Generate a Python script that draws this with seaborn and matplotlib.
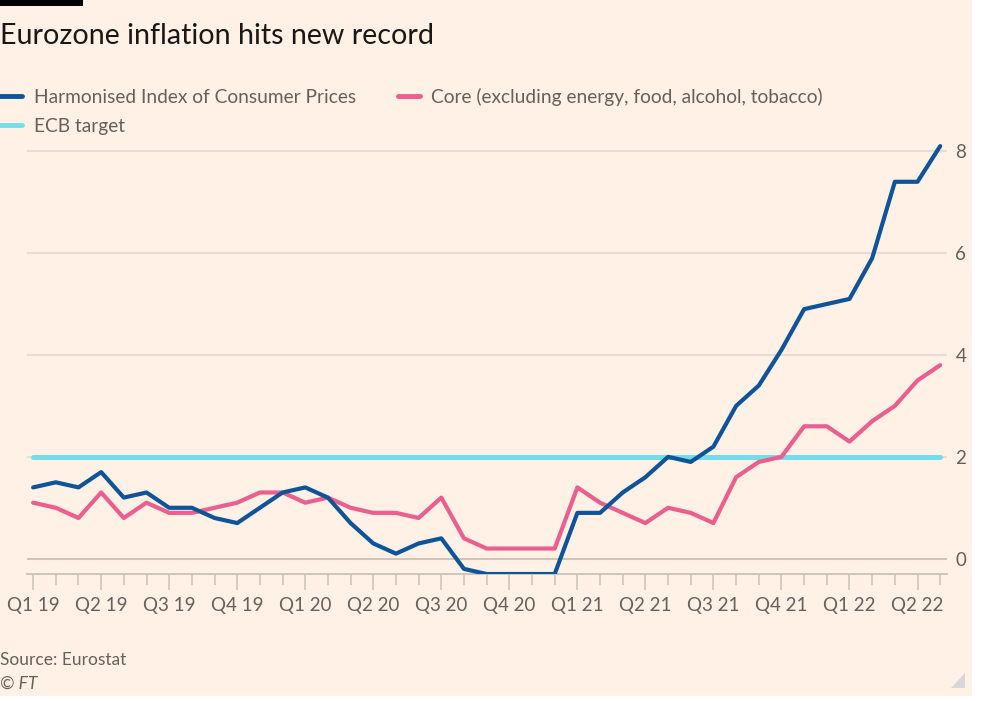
import numpy as np
import pandas as pd
import matplotlib
matplotlib.use('Agg')
import matplotlib.pyplot as plt
import seaborn as sns
from matplotlib.patches import Rectangle, Polygon

# --- data (monthly, Jan 2019 - May 2022, % y/y) ---
hicp = [1.4, 1.5, 1.4, 1.7, 1.2, 1.3, 1.0, 1.0, 0.8, 0.7, 1.0, 1.3,
        1.4, 1.2, 0.7, 0.3, 0.1, 0.3, 0.4, -0.2, -0.3, -0.3, -0.3, -0.3,
        0.9, 0.9, 1.3, 1.6, 2.0, 1.9, 2.2, 3.0, 3.4, 4.1, 4.9, 5.0,
        5.1, 5.9, 7.4, 7.4, 8.1]
core = [1.1, 1.0, 0.8, 1.3, 0.8, 1.1, 0.9, 0.9, 1.0, 1.1, 1.3, 1.3,
        1.1, 1.2, 1.0, 0.9, 0.9, 0.8, 1.2, 0.4, 0.2, 0.2, 0.2, 0.2,
        1.4, 1.1, 0.9, 0.7, 1.0, 0.9, 0.7, 1.6, 1.9, 2.0, 2.6, 2.6,
        2.3, 2.7, 3.0, 3.5, 3.8]
ecb_target = [2.0] * len(hicp)
months = list(range(len(hicp)))
quarter_labels = ['Q1 19', 'Q2 19', 'Q3 19', 'Q4 19', 'Q1 20', 'Q2 20', 'Q3 20',
                  'Q4 20', 'Q1 21', 'Q2 21', 'Q3 21', 'Q4 21', 'Q1 22', 'Q2 22']
y_ticks = [0, 2, 4, 6, 8]

names = ['Harmonised Index of Consumer Prices', 'ECB target',
         'Core (excluding energy, food, alcohol, tobacco)']
colors = {names[0]: '#0F5499', names[1]: '#73DDEA', names[2]: '#EB5E8D'}

df = pd.concat([
    pd.DataFrame({'month': months, 'value': hicp, 'series': names[0]}),
    pd.DataFrame({'month': months, 'value': ecb_target, 'series': names[1]}),
    pd.DataFrame({'month': months, 'value': core, 'series': names[2]}),
])

# --- style ---
sns.set_theme(style='white')
plt.rcParams['font.family'] = ['Lato', 'DejaVu Sans']
BG = '#FFF1E5'
GREY = '#66605C'

W, H = 981, 701
fig = plt.figure(figsize=(W / 100, H / 100), dpi=100, facecolor='white')
fig.patches.append(Rectangle((0, 5 / H), 972 / W, 696 / H, transform=fig.transFigure,
                             facecolor=BG, edgecolor='none', zorder=-10))
fig.patches.append(Rectangle((0, 1 - 6 / H), 83 / W, 6 / H, transform=fig.transFigure,
                             facecolor='black', edgecolor='none', zorder=1))
fig.patches.append(Polygon([(951 / W, 1 - 688 / H), (965 / W, 1 - 688 / H), (965 / W, 1 - 673 / H)],
                           closed=True, transform=fig.transFigure,
                           facecolor='#D8D8DA', edgecolor='none', zorder=1))

ax = fig.add_axes([27 / W, 1 - 574 / H, (947 - 27) / W, (574 - 140) / H])
ax.set_facecolor('none')
ax.set_zorder(2)

# ECB line a bit thicker, drawn under the others
lw = {names[0]: 3.0, names[1]: 3.6, names[2]: 3.0}
for name, z in [(names[1], 2), (names[2], 3), (names[0], 4)]:
    sns.lineplot(data=df[df['series'] == name], x='month', y='value', color=colors[name],
                 linewidth=lw[name], ax=ax, zorder=z, label=name, legend=False)

ax.set_xlim(-0.27, 40.3)
ax.set_ylim(-0.3, 8.22)

# gridlines
for v in y_ticks:
    ax.axhline(v, color='#CEC6B9' if v == 0 else '#E8DDD3', lw=1.5, zorder=1)

for s in ['top', 'left', 'right']:
    ax.spines[s].set_visible(False)
ax.spines['bottom'].set_color('#CEC6B9')
ax.spines['bottom'].set_linewidth(1.4)

ax.yaxis.tick_right()
ax.set_yticks(y_ticks)
ax.set_yticklabels([str(v) for v in y_ticks])
ax.tick_params(axis='y', length=0, pad=6, labelsize=13.5, labelcolor=GREY)

ax.set_xticks(months[::3])
ax.set_xticklabels(quarter_labels)
ax.set_xticks(months, minor=True)
ax.tick_params(axis='x', which='both', bottom=True, direction='out')
ax.tick_params(axis='x', which='major', length=11.5, width=1.2, color='#CEC6B9',
               pad=5, labelsize=13.5, labelcolor=GREY)
ax.tick_params(axis='x', which='minor', length=8, width=1.2, color='#CEC6B9')
ax.set_xlabel('')
ax.set_ylabel('')

# legend
handles = {l.get_label(): l for l in ax.get_lines() if l.get_label() in names}
leg = fig.legend([handles[n] for n in names], names, loc='upper left',
                 bbox_to_anchor=(0, 1 - 88 / H), ncol=2, frameon=False,
                 fontsize=13.8, handlelength=1.15, handletextpad=0.6,
                 columnspacing=2.2, labelspacing=0.6, borderpad=0, borderaxespad=0)
for t in leg.get_texts():
    t.set_color(GREY)
for h in leg.legend_handles:
    h.set_linewidth(3.5)

fig.text(0, 1 - 36 / H, 'Eurozone inflation hits new record', fontsize=20.6,
         color='#1A1817', ha='left', va='center')
fig.text(0, 1 - 660 / H, 'Source: Eurostat', fontsize=12.5, color=GREY, ha='left', va='center')
fig.text(0, 1 - 684 / H, '© FT', fontsize=12.5, color=GREY, ha='left', va='center', style='italic')

fig.savefig('out.png', dpi=100, facecolor='white')
